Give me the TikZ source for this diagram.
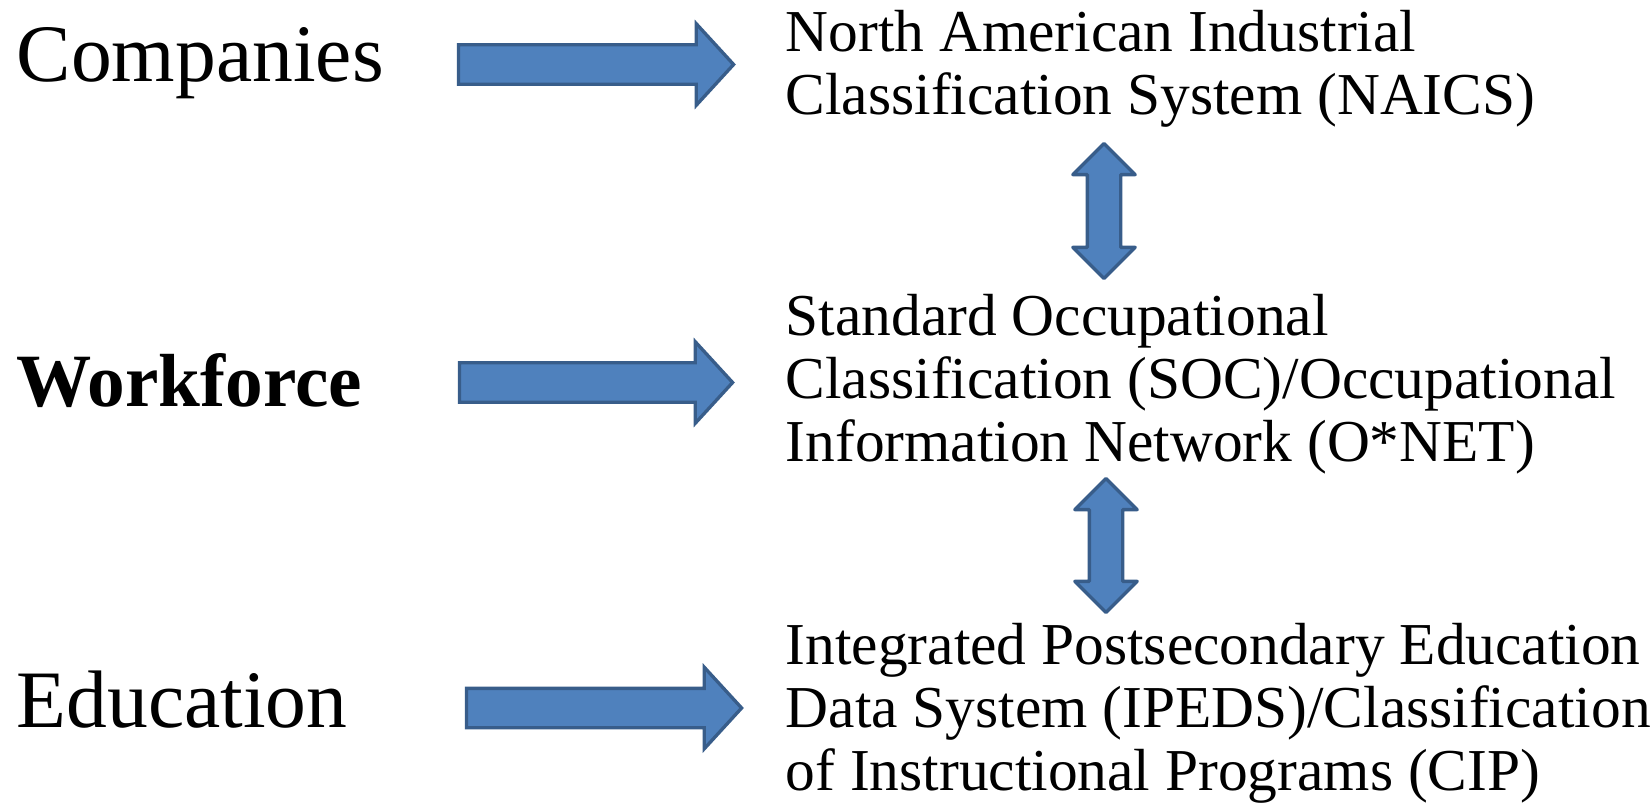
\documentclass[tikz,border=0pt]{standalone}
\usepackage{fontspec}
\setmainfont{Liberation Serif}
\usepackage{tikz}
\usetikzlibrary{shapes.arrows}
\definecolor{arrowfill}{HTML}{4F81BD}
\definecolor{arrowline}{HTML}{385D8A}

\begin{document}
\begin{tikzpicture}[x=0.01cm,y=-0.01cm,
  sector/.style={anchor=base west,inner sep=0pt,font=\fontsize{23.2}{27}\selectfont},
  scheme/.style={anchor=base west,align=left,inner sep=0pt,font=\fontsize{16.9}{17.9}\selectfont},
  maparrow/.style={single arrow,draw=arrowline,fill=arrowfill,line width=0.95pt,inner xsep=0pt,inner ysep=0.18cm,minimum width=0.78cm,single arrow head extend=0.21cm,single arrow tip angle=95},
  linkarrow/.style={double arrow,rotate=90,draw=arrowline,fill=arrowfill,line width=0.95pt,line join=round,inner xsep=0pt,inner ysep=0.15cm,minimum width=0.59cm,double arrow head extend=0.145cm,double arrow tip angle=90}]
\useasboundingbox (0,0) rectangle (1652,803);
% left column
\node[sector] (comp) at (16,81) {Companies};
\node[sector,font=\fontsize{21.4}{27}\selectfont\bfseries] (work) at (16,406) {Workforce};
\node[sector] (edu) at (16,727) {Education};
% classification systems (base = last line)
\node[scheme] (naics) at (785,114) {North American Industrial\\Classification System (NAICS)};
\node[scheme] (soc) at (785,461) {Standard Occupational\\Classification (SOC)/Occupational\\Information Network (O*NET)};
\node[scheme] (cip) at (785,790) {Integrated Postsecondary Education\\Data System (IPEDS)/Classification\\of Instructional Programs (CIP)};
% arrows
\node[maparrow,minimum height=2.75cm] (a1) at (587,64.5) {};
\node[maparrow,minimum height=2.73cm] (a2) at (587,382.5) {};
\node[maparrow,minimum height=2.75cm] (a3) at (595,708) {};
\node[linkarrow,minimum height=1.35cm] (l1) at (1104,211) {};
\node[linkarrow,minimum height=1.34cm] (l2) at (1106,545.5) {};
\end{tikzpicture}
\end{document}
